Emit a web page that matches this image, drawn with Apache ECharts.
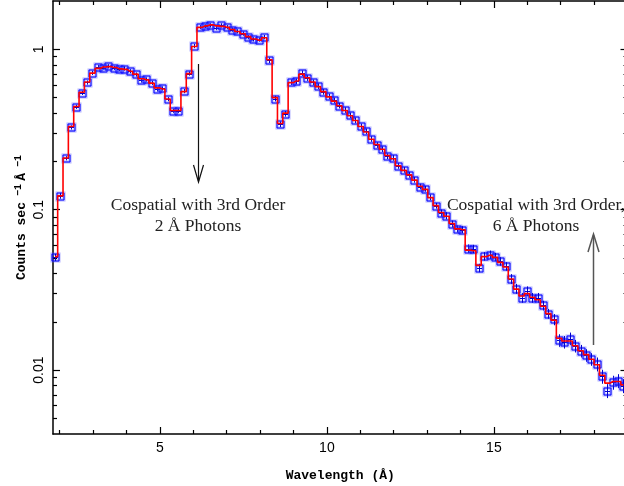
<!DOCTYPE html>
<html>
<head>
<meta charset="utf-8">
<script src="https://cdn.jsdelivr.net/npm/echarts@6/dist/echarts.min.js"></script>
<style>
html, body { margin: 0; padding: 0; background: #fff; }
#chart { width: 624px; height: 486px; }
</style>
</head>
<body>
<div id="chart"></div>
<script>
// bin centres (Angstrom)
const wavelength = [
  1.86, 2.02, 2.18, 2.34, 2.50, 2.66, 2.82, 2.98, 3.14, 3.30,
  3.46, 3.62, 3.78, 3.94, 4.10, 4.27, 4.43, 4.59, 4.75, 4.91,
  5.07, 5.23, 5.39, 5.55, 5.71, 5.87, 6.03, 6.19, 6.35, 6.51,
  6.67, 6.84, 7.00, 7.16, 7.32, 7.48, 7.64, 7.80, 7.96, 8.12,
  8.28, 8.44, 8.60, 8.76, 8.92, 9.08, 9.24, 9.40, 9.57, 9.73,
  9.89, 10.05, 10.21, 10.37, 10.53, 10.69, 10.85, 11.01, 11.17, 11.33,
  11.49, 11.65, 11.81, 11.97, 12.13, 12.30, 12.46, 12.62, 12.78, 12.94,
  13.10, 13.26, 13.42, 13.58, 13.74, 13.90, 14.06, 14.22, 14.38, 14.54,
  14.70, 14.87, 15.03, 15.19, 15.35, 15.51, 15.67, 15.83, 15.99, 16.15,
  16.31, 16.47, 16.63, 16.79, 16.95, 17.11, 17.27, 17.43, 17.60, 17.76,
  17.92, 18.08, 18.24, 18.40, 18.56, 18.72, 18.88
];
// observed counts
const counts = [
  0.0505, 0.122, 0.2095, 0.326, 0.438, 0.535, 0.621, 0.7125, 0.776, 0.770,
  0.784, 0.765, 0.751, 0.759, 0.730, 0.6965, 0.639, 0.6485, 0.6176, 0.562,
  0.570, 0.489, 0.414, 0.414, 0.549, 0.706, 1.048, 1.375, 1.39, 1.41,
  1.356, 1.41, 1.375, 1.326, 1.294, 1.252, 1.192, 1.154, 1.149, 1.192,
  0.8545, 0.493, 0.341, 0.396, 0.624, 0.631, 0.7095, 0.662, 0.622, 0.589,
  0.543, 0.508, 0.480, 0.446, 0.418, 0.3875, 0.361, 0.331, 0.308, 0.276,
  0.253, 0.2385, 0.2156, 0.2104, 0.1876, 0.1772, 0.165, 0.1536, 0.1395, 0.135,
  0.1196, 0.1059, 0.0954, 0.0918, 0.0815, 0.0759, 0.0751, 0.0573, 0.057, 0.0434,
  0.0513, 0.0525, 0.0508, 0.0477, 0.0444, 0.0371, 0.0322, 0.0283, 0.0311, 0.0283,
  0.0283, 0.0253, 0.0225, 0.0207, 0.01536, 0.01498, 0.01573, 0.01416, 0.01318, 0.01239,
  0.0117, 0.0109, 0.00914, 0.00744, 0.00839, 0.00858, 0.00799
];
// error bars, percent of counts
const errPct = [
  5, 4, 3, 3, 3, 3, 3, 3, 3, 3,
  3, 3, 3, 3, 3, 3, 3, 3, 3, 3,
  3, 3, 3, 3, 3, 3, 3, 3, 3, 3,
  3, 3, 3, 3, 3, 3, 3, 3, 3, 3,
  4, 4, 4, 4, 4, 4, 4, 4, 4, 4,
  4, 4, 4, 4, 4, 4, 4, 4, 4, 4,
  4, 4, 4, 4, 4, 4, 4, 4, 4, 4,
  4, 4, 5, 5, 5, 5, 5, 6, 6, 6,
  6, 6, 6, 6, 6, 7, 7, 7, 7, 7,
  7, 7, 7, 8, 9, 9, 9, 9, 9, 9,
  9, 10, 10, 10, 10, 10, 10
];
// fitted model (red histogram)
const model = [
  0.051, 0.122, 0.21, 0.33, 0.44, 0.54, 0.625, 0.71, 0.76, 0.775,
  0.78, 0.77, 0.755, 0.75, 0.73, 0.70, 0.655, 0.645, 0.615, 0.575,
  0.565, 0.49, 0.415, 0.415, 0.545, 0.705, 1.04, 1.37, 1.40, 1.42,
  1.40, 1.39, 1.37, 1.33, 1.29, 1.25, 1.20, 1.16, 1.14, 1.18,
  0.86, 0.50, 0.345, 0.40, 0.62, 0.635, 0.70, 0.665, 0.625, 0.585,
  0.545, 0.505, 0.475, 0.445, 0.415, 0.385, 0.36, 0.33, 0.305, 0.275,
  0.255, 0.238, 0.218, 0.208, 0.188, 0.176, 0.165, 0.153, 0.140, 0.134,
  0.119, 0.106, 0.096, 0.091, 0.082, 0.076, 0.075, 0.056, 0.0555, 0.045,
  0.051, 0.052, 0.0505, 0.047, 0.044, 0.037, 0.032, 0.029, 0.030, 0.0285,
  0.0275, 0.025, 0.0225, 0.0205, 0.0158, 0.0152, 0.0152, 0.0142, 0.0132, 0.0125,
  0.0117, 0.0108, 0.0093, 0.0083, 0.0085, 0.0085, 0.0081
];

const xMajorTicks = [5, 10, 15];
const xMinorTicks = [2, 3, 4, 6, 7, 8, 9, 11, 12, 13, 14, 16, 17, 18];
const yMajorTicks = [0.01, 0.1, 1];
const yMinorTicks = [0.005, 0.006, 0.007, 0.008, 0.009,
  0.02, 0.03, 0.04, 0.05, 0.06, 0.07, 0.08, 0.09,
  0.2, 0.3, 0.4, 0.5, 0.6, 0.7, 0.8, 0.9];

const labelFont = { color: '#000', fontSize: 14, fontFamily: 'Liberation Sans' };

function xAx(pos, ticks, len, withLine, labels) {
  return {
    type: 'value', position: pos, min: 1.8, max: 19,
    axisLine: { show: withLine, lineStyle: { color: '#000', width: 1.5 } },
    axisTick: { show: true, inside: true, length: len, customValues: ticks, lineStyle: { color: '#000', width: 1.2 } },
    axisLabel: labels ? Object.assign({ show: true, customValues: labels, margin: 7 }, labelFont) : { show: false },
    splitLine: { show: false }
  };
}
function yAx(pos, ticks, len, withLine, labels) {
  return {
    type: 'log', logBase: 10, position: pos, min: 0.004, max: 2,
    axisLine: { show: withLine, lineStyle: { color: '#000', width: 1.5 } },
    axisTick: { show: true, inside: true, length: len, customValues: ticks, lineStyle: { color: '#000', width: 1.2 } },
    axisLabel: labels ? Object.assign({ show: true, customValues: labels, rotate: 90, margin: 7 }, labelFont) : { show: false },
    splitLine: { show: false }
  };
}

const xBottom = xAx('bottom', xMajorTicks, 7, true, xMajorTicks);
xBottom.name = 'Wavelength (Å)';
xBottom.nameLocation = 'middle';
xBottom.nameGap = 35;
xBottom.nameMoveOverlap = false;
xBottom.nameTextStyle = { color: '#000', fontSize: 13, fontWeight: 'bold', fontFamily: 'Liberation Mono' };

const yLeft = yAx('left', yMajorTicks, 7, true, yMajorTicks);
yLeft.name = '{a|Counts sec}{s| −1} {a|Å}{s| −1}';
yLeft.nameLocation = 'middle';
yLeft.nameGap = 22;
yLeft.nameMoveOverlap = false;
yLeft.nameTextStyle = {
  color: '#000',
  rich: {
    a: { fontSize: 13, fontWeight: 'bold', fontFamily: 'Liberation Mono', color: '#000', lineHeight: 18 },
    s: { fontSize: 10, fontWeight: 'bold', fontFamily: 'Liberation Mono', color: '#000', verticalAlign: 'top', lineHeight: 10 }
  }
};

function renderPoint(params, api) {
  const x = api.value(0), y = api.value(1), e = api.value(2);
  const c = api.coord([x, y]);
  const hi = api.coord([x, y + e]);
  const lo = api.coord([x, y - e]);
  const h = 3.5;
  const cx = Math.round(c[0]) + 0.5, cy = Math.round(c[1]) + 0.5;
  return {
    type: 'group',
    children: [
      { type: 'rect', shape: { x: cx - h, y: cy - h, width: 2 * h, height: 2 * h },
        style: { fill: 'none', stroke: 'rgba(90,90,255,0.45)', lineWidth: 3 } },
      { type: 'rect', shape: { x: cx - h, y: cy - h, width: 2 * h, height: 2 * h },
        style: { fill: 'none', stroke: '#0000ff', lineWidth: 1 } },
      { type: 'line', shape: { x1: cx - 2.5, y1: cy, x2: cx + 2.5, y2: cy },
        style: { stroke: '#0000cc', lineWidth: 1 } },
      { type: 'line', shape: { x1: cx, y1: hi[1], x2: cx, y2: lo[1] },
        style: { stroke: '#0000cc', lineWidth: 1 } }
    ]
  };
}

const chart = echarts.init(document.getElementById('chart'), null, { renderer: 'canvas' });
const option = {
  backgroundColor: '#fff',
  animation: false,
  grid: { left: 53, top: 1, width: 574.5, height: 433, containLabel: false, outerBoundsMode: 'none' },
  xAxis: [
    xBottom,
    xAx('bottom', xMinorTicks, 4, false, null),
    xAx('top', xMajorTicks, 7, true, null),
    xAx('top', xMinorTicks, 4, false, null)
  ],
  yAxis: [
    yLeft,
    yAx('left', yMinorTicks, 4, false, null),
    yAx('right', yMajorTicks, 7, true, null),
    yAx('right', yMinorTicks, 4, false, null)
  ],
  series: [
    {
      type: 'custom',
      renderItem: renderPoint,
      encode: { x: 0, y: 1 },
      data: wavelength.map((w, i) => [w, counts[i], counts[i] * errPct[i] / 100]),
      z: 2
    },
    {
      type: 'line',
      step: 'middle',
      showSymbol: false,
      data: wavelength.map((w, i) => [w, model[i]]),
      lineStyle: { color: '#ff0000', width: 1.6 },
      z: 3
    }
  ],
  graphic: [
    { type: 'text', x: 198, y: 215.5,
      style: { text: 'Cospatial with 3rd Order\n2 Å Photons', align: 'center', verticalAlign: 'middle',
        fontSize: 17.5, fontFamily: 'Liberation Serif', fill: '#222', lineHeight: 21 } },
    { type: 'text', x: 536, y: 215.5,
      style: { text: 'Cospatial with 3rd Order,\n6 Å Photons', align: 'center', verticalAlign: 'middle',
        fontSize: 17.5, fontFamily: 'Liberation Serif', fill: '#222', lineHeight: 21 } },
    { type: 'line', shape: { x1: 198.5, y1: 64, x2: 198.5, y2: 181 }, style: { stroke: '#111', lineWidth: 1.2 } },
    { type: 'polyline', shape: { points: [[193.5, 165], [198.5, 182], [203.5, 165]] },
      style: { stroke: '#111', fill: null, lineWidth: 1.2 } },
    { type: 'line', shape: { x1: 593.5, y1: 345, x2: 593.5, y2: 235 }, style: { stroke: '#555', lineWidth: 1.5 } },
    { type: 'polyline', shape: { points: [[588, 252], [593.5, 234], [599, 252]] },
      style: { stroke: '#555', fill: null, lineWidth: 1.5 } }
  ]
};
chart.setOption(option);
</script>
</body>
</html>
